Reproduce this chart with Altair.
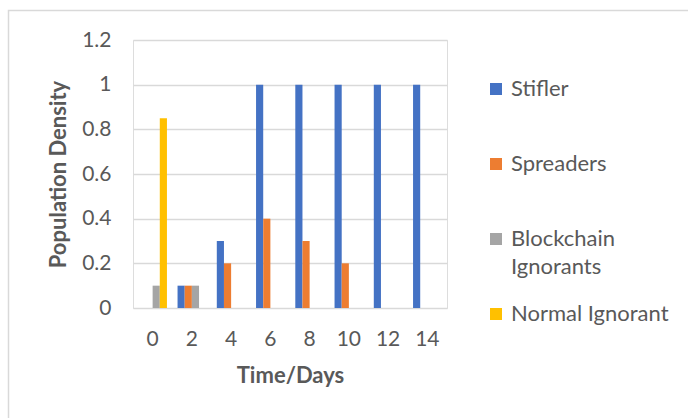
import altair as alt
import pandas as pd

# ---- data ----
days = ["0", "2", "4", "6", "8", "10", "12", "14"]
series = ["Stifler", "Spreaders", "Blockchain Ignorants", "Normal Ignorant"]
stifler = [0, 0.1, 0.3, 1, 1, 1, 1, 1]
spreaders = [0, 0.1, 0.2, 0.4, 0.3, 0.2, 0, 0]
blockchain = [0.1, 0.1, 0, 0, 0, 0, 0, 0]
normal = [0.85, 0, 0, 0, 0, 0, 0, 0]
colors = ["#4472C4", "#ED7D31", "#A5A5A5", "#FFC000"]
y_ticks = [0, 0.2, 0.4, 0.6, 0.8, 1.0, 1.2]

rows = []
for s, vals in zip(series, [stifler, spreaders, blockchain, normal]):
    for d, v in zip(days, vals):
        rows.append({"day": d, "series": s, "value": v})
df = pd.DataFrame(rows)

FONT = "Lato"
GREY = "#595959"
GRID = "#d9d9d9"

bars = alt.Chart(df).mark_bar().encode(
    x=alt.X(
        "day:N", sort=days,
        scale=alt.Scale(paddingInner=0.27, paddingOuter=0.135),
        axis=alt.Axis(
            title="Time/Days", labelAngle=0, labelFont=FONT, labelFontSize=21,
            labelColor=GREY, labelPadding=20, ticks=False, domain=False, grid=False,
            titleFont=FONT, titleFontSize=22, titleFontWeight="bold", titleColor=GREY,
            titleY=67, titleBaseline="middle",
        ),
    ),
    xOffset=alt.XOffset("series:N", sort=series,
                        scale=alt.Scale(domain=series, paddingInner=0, paddingOuter=0)),
    y=alt.Y(
        "value:Q",
        scale=alt.Scale(domain=[0, 1.2], nice=False),
        axis=alt.Axis(
            title="Population Density", values=y_ticks, format="~g",
            labelFont=FONT, labelFontSize=21, labelColor=GREY, labelPadding=22,
            ticks=False, domain=False, grid=True, gridColor=GRID, gridWidth=1.5,
            titleFont=FONT, titleFontSize=22, titleFontWeight="bold", titleColor=GREY,
            titleX=-75, titleY=134, titleBaseline="middle",
        ),
    ),
    color=alt.Color(
        "series:N", sort=series,
        scale=alt.Scale(domain=series, range=colors),
        legend=alt.Legend(
            title=None, orient="none", legendX=352, legendY=38,
            symbolType="square", symbolSize=144, symbolStrokeWidth=0,
            labelFont=FONT, labelFontSize=22, labelColor=GREY, labelOffset=4,
            labelLimit=300, gridAlign="all", rowPadding=25,
            labelExpr="datum.label == 'Blockchain Ignorants' ? ['Blockchain', 'Ignorants'] : datum.label",
        ),
    ),
)

frame = alt.Chart(pd.DataFrame({"k": [0]})).mark_rect(
    fillOpacity=0, stroke=GRID, strokeWidth=1.5
).encode(
    x=alt.value(-124.5), x2=alt.value(700), y=alt.value(-29.5), y2=alt.value(500)
)

chart = alt.layer(frame, bars).properties(
    width=314, height=268,
    autosize=alt.AutoSizeParams(type="none"),
    padding={"left": 133, "top": 40, "right": 241, "bottom": 110},
    background="white",
).configure_view(
    stroke=None, fill="#eeeeee"
).configure(
    style={"guide-label": {"lineHeight": 28}}
)

chart.save("out.html", embed_options={"renderer": "svg", "actions": False})
